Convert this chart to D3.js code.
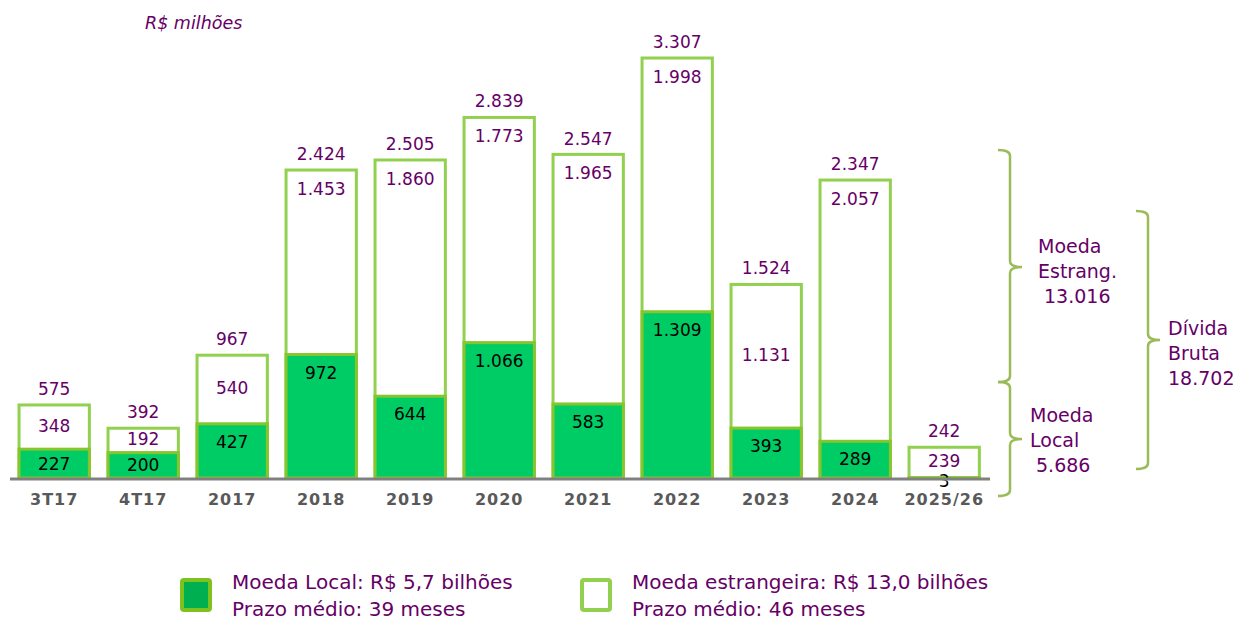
<!DOCTYPE html>
<html lang="pt-BR">
<head>
<meta charset="utf-8">
<script src="https://cdn.jsdelivr.net/npm/d3@7"></script>
<style>
  body { margin: 0; background: #fff; }
  svg { display: block; font-family: "DejaVu Sans", Verdana, sans-serif; }
</style>
</head>
<body>
<div id="chart-container"></div>
<script>
// Períodos do cronograma de amortização
const categorias = ['3T17', '4T17', '2017', '2018', '2019', '2020', '2021', '2022', '2023', '2024', '2025/26'];
// Moeda local (R$ milhões)
const moedaLocal = [227, 200, 427, 972, 644, 1066, 583, 1309, 393, 289, 3];
// Moeda estrangeira (R$ milhões)
const moedaEstrangeira = [348, 192, 540, 1453, 1860, 1773, 1965, 1998, 1131, 2057, 239];
// Totais exibidos acima das barras
const totais = [575, 392, 967, 2424, 2505, 2839, 2547, 3307, 1524, 2347, 242];

// Chaves laterais: [rótulo, valor]
const chaves = [
  { linhas: ['Moeda', 'Estrang.'], valor: 13016 },
  { linhas: ['Moeda', 'Local'], valor: 5686 },
  { linhas: ['Dívida', 'Bruta'], valor: 18702 },
];

// Legenda
const legendaLinhas = [
  ['Moeda Local: R$ 5,7 bilhões', 'Prazo médio: 39 meses'],
  ['Moeda estrangeira: R$ 13,0 bilhões', 'Prazo médio: 46 meses'],
];

const width = 1238, height = 620;
const roxo = '#660066';
const verde = '#00CC66';
const verdeBorda = '#92D050';
const verdeChave = '#9BBB59';

// Formato brasileiro (ponto como separador de milhar)
const locale = d3.formatLocale({ decimal: ',', thousands: '.', grouping: [3], currency: ['R$ ', ''] });
const fmt = locale.format(',d');

const svg = d3.select('#chart-container')
  .append('svg')
  .attr('width', width)
  .attr('height', height);

// Escalas
const x = d3.scaleBand()
  .domain(categorias)
  .range([9.7, 988.7])
  .paddingInner(0.21)
  .paddingOuter(0.105);

const y = d3.scaleLinear()
  .domain([0, 3500])
  .range([478, 33.5]);

// Titulo
svg.append('text')
  .attr('x', 145)
  .attr('y', 29)
  .attr('fill', roxo)
  .attr('font-size', 17.5)
  .attr('font-style', 'italic')
  .text('R$ milhões');

const dados = categorias.map((c, i) => ({
  cat: c, local: moedaLocal[i], estr: moedaEstrangeira[i], total: totais[i]
}));

const barras = svg.selectAll('.barra')
  .data(dados)
  .enter()
  .append('g')
  .attr('class', 'barra');

// Barra inteira (parte branca = moeda estrangeira)
barras.append('rect')
  .attr('x', d => x(d.cat))
  .attr('y', d => y(d.local + d.estr))
  .attr('width', x.bandwidth())
  .attr('height', d => y(0) - y(d.local + d.estr))
  .attr('fill', '#fff')
  .attr('stroke', verdeBorda)
  .attr('stroke-width', 3);

// Parte verde (moeda local)
barras.append('rect')
  .attr('x', d => x(d.cat))
  .attr('y', d => y(d.local))
  .attr('width', x.bandwidth())
  .attr('height', d => y(0) - y(d.local))
  .attr('fill', verde)
  .attr('stroke', '#86C62C')
  .attr('stroke-width', 3);

// Eixo
svg.append('line')
  .attr('x1', 10)
  .attr('x2', 990)
  .attr('y1', y(0) + 1)
  .attr('y2', y(0) + 1)
  .attr('stroke', '#808080')
  .attr('stroke-width', 3);

const xAxis = svg.append('g')
  .attr('transform', `translate(0,${y(0) + 3})`)
  .call(d3.axisBottom(x).tickSize(0).tickPadding(13));
xAxis.select('.domain').remove();
xAxis.selectAll('text')
  .attr('font-family', '"DejaVu Sans", Verdana, sans-serif')
  .attr('font-size', 16)
  .attr('font-weight', 'bold')
  .attr('letter-spacing', 1)
  .attr('fill', '#595959');

// Rotulo do total
barras.append('text')
  .attr('x', d => x(d.cat) + x.bandwidth() / 2)
  .attr('y', d => y(d.total) - 10)
  .attr('text-anchor', 'middle')
  .attr('fill', roxo)
  .attr('font-size', 17)
  .text(d => fmt(d.total));

// Rotulo da moeda estrangeira: no topo se a barra for alta, centrado se não
barras.append('text')
  .attr('x', d => x(d.cat) + x.bandwidth() / 2)
  .attr('y', d => {
    const topo = y(d.local + d.estr), base = y(d.local);
    return (base - topo > 160 ? topo + 19 : (topo + base) / 2 - 1) + 6;
  })
  .attr('text-anchor', 'middle')
  .attr('fill', roxo)
  .attr('font-size', 17)
  .text(d => fmt(d.estr));

// Rotulo da moeda local
barras.append('text')
  .attr('x', d => x(d.cat) + x.bandwidth() / 2)
  .attr('y', d => {
    const topo = y(d.local), base = y(0);
    return Math.min((topo + base) / 2, topo + 18) + 6;
  })
  .attr('dy', d => d.local < 20 ? 3 : 0)
  .attr('text-anchor', 'middle')
  .attr('fill', '#000')
  .attr('font-size', 17)
  .text(d => fmt(d.local));

// Desenha uma chave "}" vertical
function chave(xb, y0, y1, ym, larg) {
  const p = d3.path();
  const r = 6;
  p.moveTo(xb - larg, y0);
  p.quadraticCurveTo(xb, y0, xb, y0 + r);
  p.lineTo(xb, ym - r);
  p.quadraticCurveTo(xb, ym, xb + larg, ym);
  p.quadraticCurveTo(xb, ym, xb, ym + r);
  p.lineTo(xb, y1 - r);
  p.quadraticCurveTo(xb, y1, xb - larg, y1);
  svg.append('path')
    .attr('d', p.toString())
    .attr('fill', 'none')
    .attr('stroke', verdeChave)
    .attr('stroke-width', 2.5);
}

chave(1010, 150, 382, 267, 12);
chave(1010, 382, 496, 439, 12);
chave(1148, 211, 469, 340, 12);

// Textos das chaves
const posChaves = [
  { x: 1038, y: 253, dx: 6 },
  { x: 1030, y: 422, dx: 6 },
  { x: 1168, y: 335, dx: 0 },
];
chaves.forEach((c, i) => {
  const p = posChaves[i];
  const t = svg.append('text')
    .attr('fill', roxo)
    .attr('font-size', 19);
  c.linhas.forEach((l, j) => {
    t.append('tspan').attr('x', p.x).attr('y', p.y + j * 25).text(l);
  });
  t.append('tspan').attr('x', p.x + p.dx).attr('y', p.y + 50).text(fmt(c.valor));
});

// Legenda
const legX = [180, 580];
legendaLinhas.forEach((linhas, i) => {
  const g = svg.append('g').attr('transform', `translate(${legX[i]},578)`);
  g.append('rect')
    .attr('x', 2).attr('y', 2)
    .attr('width', 28).attr('height', 30)
    .attr('rx', 2)
    .attr('fill', i === 0 ? '#00B050' : '#fff')
    .attr('stroke', i === 0 ? '#7DC21E' : verdeBorda)
    .attr('stroke-width', 4);
  linhas.forEach((l, j) => {
    g.append('text')
      .attr('x', 52)
      .attr('y', 11 + j * 27)
      .attr('fill', roxo)
      .attr('font-size', 20)
      .text(l);
  });
});
</script>
</body>
</html>
